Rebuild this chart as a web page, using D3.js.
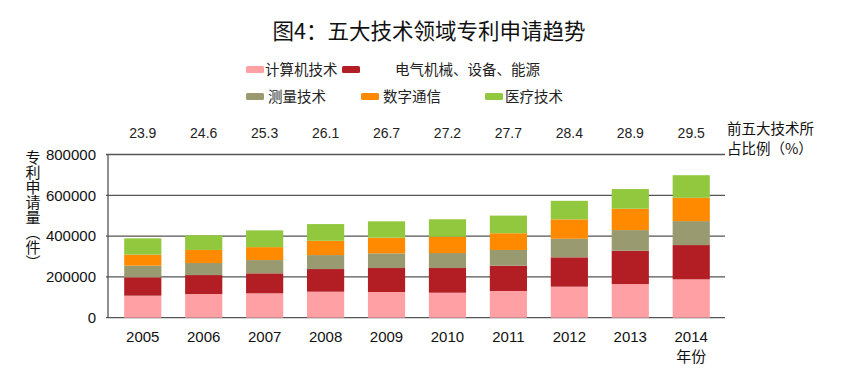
<!DOCTYPE html>
<html lang="zh">
<head>
<meta charset="utf-8">
<title>五大技术领域专利申请趋势</title>
<style>
  body { margin: 0; background: #fff; }
  svg { display: block; font-family: "Noto Sans CJK SC", "Liberation Sans", sans-serif; }
</style>
</head>
<body>
<div id="chart"></div>
<script src="https://cdnjs.cloudflare.com/ajax/libs/d3/7.8.5/d3.min.js"></script>
<script>
// data
var years = ["2005", "2006", "2007", "2008", "2009", "2010", "2011", "2012", "2013", "2014"];
var shares = [23.9, 24.6, 25.3, 26.1, 26.7, 27.2, 27.7, 28.4, 28.9, 29.5];
var computer = [108000, 116000, 119500, 127500, 126000, 122500, 131000, 152000, 165000, 188000];
var electrical = [90000, 93000, 98000, 111000, 117500, 121000, 124000, 144000, 163000, 168000];
var measuring = [57000, 59000, 65000, 68500, 72000, 73500, 77000, 91000, 101500, 117500];
var digitalComm = [54000, 64000, 63500, 70000, 76500, 80000, 82000, 95000, 104500, 114000];
var medical = [80000, 72000, 82000, 82000, 80500, 85500, 86500, 91000, 96500, 111000];
var yTicks = [0, 200000, 400000, 600000, 800000];

var seriesNames = ["计算机技术", "电气机械、设备、能源", "测量技术", "数字通信", "医疗技术"];
var seriesValues = [computer, electrical, measuring, digitalComm, medical];
var colors = ["#FFA0A5", "#B21E23", "#9A9A70", "#FF8A00", "#92C83E"];

var width = 844, height = 382;
var svg = d3.select("#chart").append("svg")
    .attr("width", width)
    .attr("height", height);

// table for d3.stack
var rows = years.map(function(y, i) {
    var r = {year: y};
    seriesNames.forEach(function(n, k) { r[n] = seriesValues[k][i]; });
    return r;
});
var stacked = d3.stack().keys(seriesNames)(rows);

var x = d3.scaleBand().domain(years).range([112, 722]).paddingInner(0.39).paddingOuter(0.2);
var y = d3.scaleLinear().domain([0, 800000]).range([317.7, 154.5]);

// title
svg.append("text")
    .attr("x", 429).attr("y", 39)
    .attr("text-anchor", "middle")
    .attr("font-size", 21.5)
    .attr("fill", "#111")
    .text("图4：五大技术领域专利申请趋势");

// gridlines
svg.append("g").selectAll("line")
    .data(yTicks)
    .enter().append("line")
    .attr("x1", 106).attr("x2", 725)
    .attr("y1", function(d) { return y(d); })
    .attr("y2", function(d) { return y(d); })
    .attr("stroke", "#555")
    .attr("stroke-width", 1.3);

// y axis line
svg.append("line")
    .attr("x1", 108).attr("x2", 108)
    .attr("y1", y(800000)).attr("y2", y(0))
    .attr("stroke", "#555")
    .attr("stroke-width", 1.3);

// y tick labels
svg.append("g").selectAll("text")
    .data(yTicks)
    .enter().append("text")
    .attr("x", 96)
    .attr("y", function(d) { return y(d); })
    .attr("dy", "0.35em")
    .attr("text-anchor", "end")
    .attr("font-family", "Liberation Sans, sans-serif")
    .attr("font-size", 15)
    .attr("fill", "#111")
    .text(function(d) { return d; });

// y axis title (vertical)
svg.append("text")
    .attr("x", 33).attr("y", 150)
    .style("writing-mode", "vertical-rl")
    .attr("font-size", 15)
    .attr("fill", "#111")
    .text("专利申请量（件）");

// stacked bars
var layers = svg.append("g").selectAll("g")
    .data(stacked)
    .enter().append("g")
    .attr("fill", function(d, i) { return colors[i]; });
layers.selectAll("rect")
    .data(function(d) { return d; })
    .enter().append("rect")
    .attr("x", function(d) { return x(d.data.year); })
    .attr("y", function(d) { return y(d[1]); })
    .attr("width", x.bandwidth())
    .attr("height", function(d) { return y(d[0]) - y(d[1]); });

// x labels
svg.append("g").selectAll("text")
    .data(years)
    .enter().append("text")
    .attr("x", function(d) { return x(d) + x.bandwidth() / 2; })
    .attr("y", 342)
    .attr("text-anchor", "middle")
    .attr("font-family", "Liberation Sans, sans-serif")
    .attr("font-size", 15)
    .attr("fill", "#111")
    .text(function(d) { return d; });

svg.append("text")
    .attr("x", x("2014") + x.bandwidth() / 2)
    .attr("y", 362)
    .attr("text-anchor", "middle")
    .attr("font-size", 15)
    .attr("fill", "#111")
    .text("年份");

// share row on top
svg.append("g").selectAll("text")
    .data(shares)
    .enter().append("text")
    .attr("x", function(d, i) { return x(years[i]) + x.bandwidth() / 2; })
    .attr("y", 138)
    .attr("text-anchor", "middle")
    .attr("font-family", "Liberation Sans, sans-serif")
    .attr("font-size", 14)
    .attr("fill", "#222")
    .text(function(d) { return d.toFixed(1); });

svg.append("text")
    .attr("x", 727).attr("y", 134)
    .attr("font-size", 14.5)
    .attr("fill", "#111")
    .text("前五大技术所");
svg.append("text")
    .attr("x", 727).attr("y", 154)
    .attr("font-size", 14.5)
    .attr("fill", "#111")
    .text("占比例（%）");

// legend
var legendPos = [[246, 70], [342, 70], [246, 97], [361, 97], [485, 97]];
var textX = [265, 395, 268, 383, 505];
var legend = svg.append("g").selectAll("g")
    .data(seriesNames)
    .enter().append("g");
legend.append("rect")
    .attr("x", function(d, i) { return legendPos[i][0]; })
    .attr("y", function(d, i) { return legendPos[i][1] - 4; })
    .attr("width", 18).attr("height", 7)
    .attr("rx", 1.5)
    .attr("fill", function(d, i) { return colors[i]; });
legend.append("text")
    .attr("x", function(d, i) { return textX[i]; })
    .attr("y", function(d, i) { return legendPos[i][1]; })
    .attr("dy", "0.35em")
    .attr("font-size", 14.5)
    .attr("fill", "#222")
    .text(function(d) { return d; });
</script>
</body>
</html>
